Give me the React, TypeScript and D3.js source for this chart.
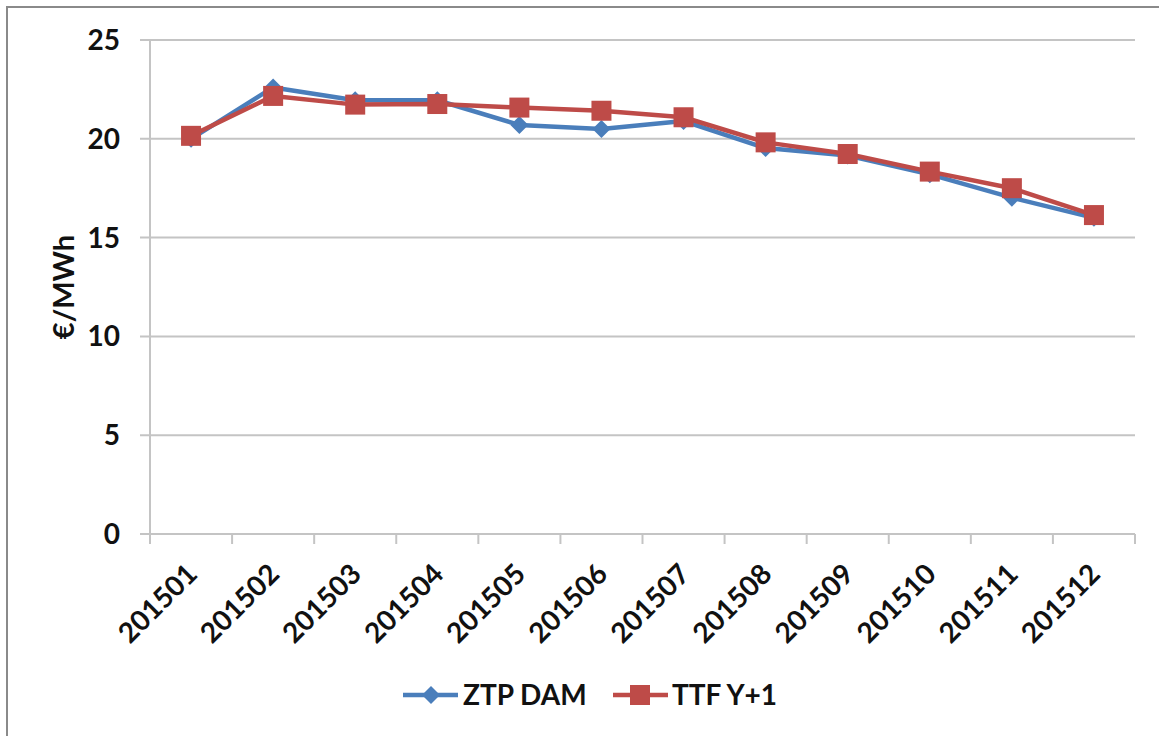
import * as d3 from 'd3';
import React from 'react';

const months = ['201501', '201502', '201503', '201504', '201505', '201506',
  '201507', '201508', '201509', '201510', '201511', '201512'];
const ztpDam = [20.0, 22.6, 21.95, 21.95, 20.7, 20.5, 20.9, 19.53, 19.15, 18.2, 17.02, 16.0];
const ttfY1 = [20.15, 22.17, 21.73, 21.76, 21.58, 21.42, 21.09, 19.82, 19.23, 18.34, 17.5, 16.14];
const yTicks = [0, 5, 10, 15, 20, 25];

const W = 1159;
const H = 736;
const left = 150;
const right = 1135;
const top = 40;
const bottom = 534;

const BLUE = '#4a7ebb';
const RED = '#be4b48';
const GRID = '#c4c4c4';
const FONT = 'Lato, "Open Sans", sans-serif';

export default function App() {
  const x = d3.scaleBand<string>().domain(months).range([left, right]).padding(0);
  const y = d3.scaleLinear().domain([0, 25]).range([bottom, top]);
  const cx = (m: string) => (x(m) ?? 0) + x.bandwidth() / 2;

  const line = d3.line<number>()
    .x((_, i) => cx(months[i]))
    .y(d => y(d));

  const boundaries = months.map(m => x(m) ?? 0).concat([right]);

  const diamond = (px: number, py: number, r: number) =>
    `M${px},${py - r}L${px + r},${py}L${px},${py + r}L${px - r},${py}Z`;

  return (
    <svg width={W} height={H} style={{ position: 'absolute', left: 0, top: 0, background: '#fff' }}
      fontFamily={FONT}>
      {/* outer chart frame */}
      <rect x={7} y={7} width={W + 20} height={H + 20} fill="#fff" stroke="#8a8a8a" strokeWidth={2} />

      {/* gridlines + y labels */}
      {yTicks.map(t => (
        <g key={t}>
          <line x1={left - 10} x2={right} y1={y(t)} y2={y(t)} stroke={GRID} strokeWidth={2} />
          <text x={120} y={y(t)} dy="0.36em" textAnchor="end" fontSize={28} fontWeight={700} fill="#111">
            {t}
          </text>
        </g>
      ))}

      {/* y axis line */}
      <line x1={left} x2={left} y1={top} y2={bottom} stroke={GRID} strokeWidth={2} />

      {/* x ticks */}
      {boundaries.map((b, i) => (
        <line key={i} x1={b} x2={b} y1={bottom} y2={bottom + 10} stroke={GRID} strokeWidth={2} />
      ))}

      {/* x labels */}
      {months.map(m => (
        <text key={m} transform={`translate(${cx(m) - 6},${bottom + 28}) rotate(-45)`}
          textAnchor="end" dy="0.7em" fontSize={28} fontWeight={700} fill="#111">
          {m}
        </text>
      ))}

      {/* y axis title */}
      <text transform={`translate(74,${(top + bottom) / 2}) rotate(-90)`} textAnchor="middle"
        fontSize={29} fontWeight={700} fill="#111">
        €/MWh
      </text>

      {/* ZTP DAM */}
      <path d={line(ztpDam) ?? ''} fill="none" stroke={BLUE} strokeWidth={4.5} strokeLinejoin="round" />
      {ztpDam.map((v, i) => (
        <path key={i} d={diamond(cx(months[i]), y(v), 9)} fill={BLUE} />
      ))}

      {/* TTF Y+1 */}
      <path d={line(ttfY1) ?? ''} fill="none" stroke={RED} strokeWidth={4.5} strokeLinejoin="round" />
      {ttfY1.map((v, i) => (
        <rect key={i} x={cx(months[i]) - 10} y={y(v) - 10} width={20} height={20} fill={RED} />
      ))}

      {/* legend */}
      <g>
        <line x1={403} x2={458} y1={695} y2={695} stroke={BLUE} strokeWidth={4.5} />
        <path d={diamond(431, 695, 9)} fill={BLUE} />
        <text x={463} y={695} dy="0.36em" fontSize={28} fontWeight={700} fill="#111">ZTP DAM</text>
        <line x1={613} x2={668} y1={695} y2={695} stroke={RED} strokeWidth={4.5} />
        <rect x={630} y={685} width={20} height={20} fill={RED} />
        <text x={672} y={695} dy="0.36em" fontSize={28} fontWeight={700} fill="#111">TTF Y+1</text>
      </g>
    </svg>
  );
}
